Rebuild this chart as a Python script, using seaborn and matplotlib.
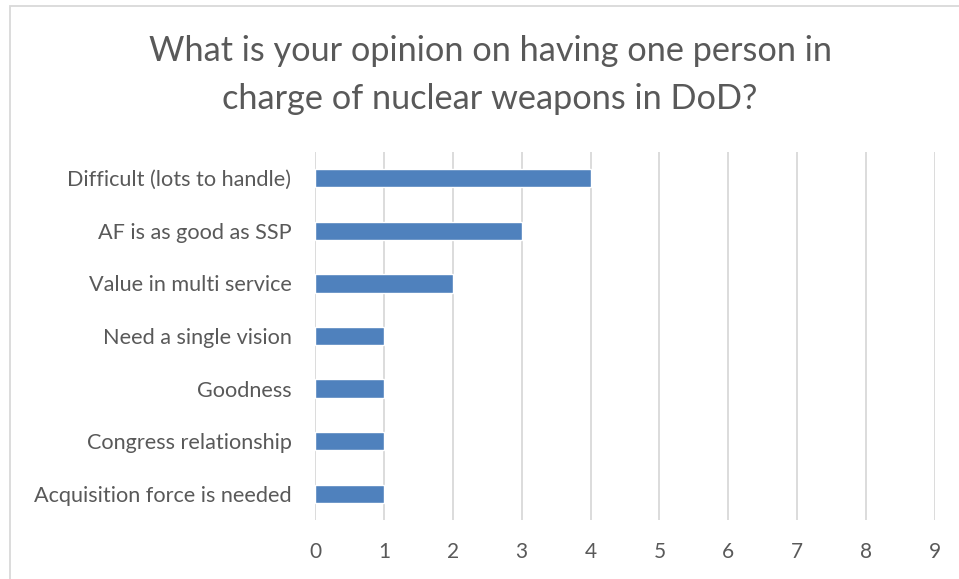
import matplotlib
matplotlib.use("Agg")
import matplotlib.pyplot as plt
import seaborn as sns
import pandas as pd
from matplotlib.patches import Rectangle

categories = [
    "Difficult (lots to handle)",
    "AF is as good as SSP",
    "Value in multi service",
    "Need a single vision",
    "Goodness",
    "Congress relationship",
    "Acquisition force is needed",
]
counts = [4, 3, 2, 1, 1, 1, 1]
x_ticks = list(range(0, 10))

df = pd.DataFrame({"category": categories, "count": counts})

sns.set_theme(style="white")
plt.rcParams["font.family"] = ["Lato", "DejaVu Sans"]

W, H = 959, 579
fig = plt.figure(figsize=(W / 100, H / 100), dpi=100)
ax = fig.add_axes([315 / W, 1 - 520 / H, (935 - 315) / W, (520 - 152) / H])

sns.barplot(data=df, x="count", y="category", orient="h", color="#4f81bd",
            width=0.35, saturation=1, ax=ax, zorder=3)

ax.set_xlim(0, 9)
ax.set_ylim(6.5, -0.5)
ax.set_xticks(x_ticks)
ax.set_xticklabels([str(t) for t in x_ticks])
ax.xaxis.grid(True, color="#d9d9d9", linewidth=1.3, zorder=0)
ax.yaxis.grid(False)
for s in ax.spines.values():
    s.set_visible(False)
ax.set_xlabel("")
ax.set_ylabel("")
ax.tick_params(axis="x", labelsize=15, colors="#595959", pad=16, length=0)
ax.tick_params(axis="y", labelsize=15.6, colors="#595959", pad=17, length=0)

fig.text(490 / W, 1 - 75 / H,
         "What is your opinion on having one person in\ncharge of nuclear weapons in DoD?",
         ha="center", va="center", fontsize=24.7, color="#595959",
         linespacing=1.62)

# chart area frame
fig.patches.append(Rectangle((9.5 / W, -0.1), 1.2, 1 - 6 / H + 0.1,
                             transform=fig.transFigure, fill=False,
                             edgecolor="#d9d9d9", linewidth=1.3))

fig.savefig("out.png", dpi=100, facecolor="white")
